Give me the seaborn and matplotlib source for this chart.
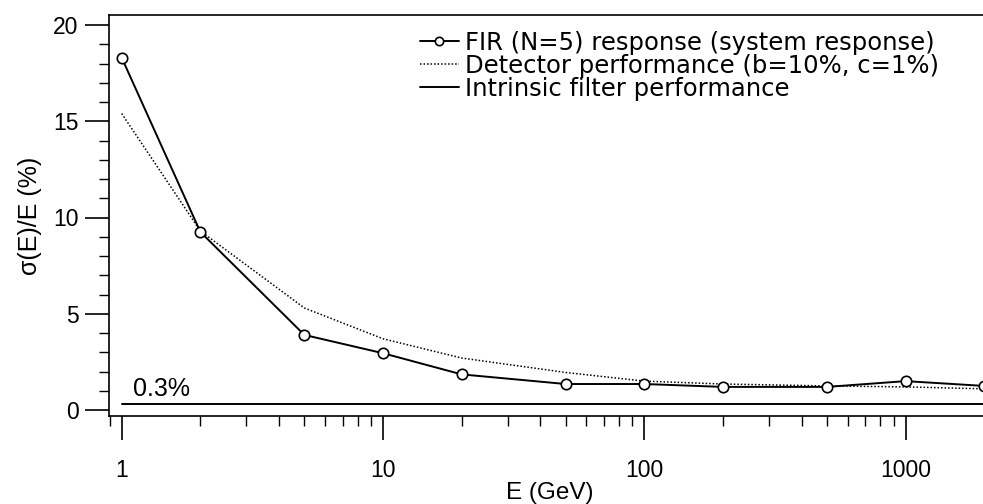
import numpy as np
import pandas as pd
import matplotlib
matplotlib.use("Agg")
import matplotlib.pyplot as plt
import matplotlib.ticker as mticker
import seaborn as sns

energy = [1, 2, 5, 10, 20, 50, 100, 200, 500, 1000, 2000]
fir_response = [18.3, 9.25, 3.9, 2.95, 1.85, 1.35, 1.35, 1.2, 1.2, 1.5, 1.25]
detector_perf = [15.4, 9.3, 5.3, 3.7, 2.7, 1.95, 1.5, 1.35, 1.25, 1.2, 1.1]
intrinsic_energy = [1, 2500]
intrinsic_perf = [0.3, 0.3]
legend_labels = ["FIR (N=5) response (system response)",
                 "Detector performance (b=10%, c=1%)",
                 "Intrinsic filter performance"]
x_ticks = [1, 10, 100, 1000]
y_ticks = [0, 5, 10, 15, 20]

sns.set_style("ticks")
plt.rcParams['font.family'] = ['Liberation Sans', 'DejaVu Sans']
plt.rcParams['font.size'] = 16
plt.rcParams['text.color'] = 'black'
plt.rcParams['axes.labelcolor'] = 'black'
plt.rcParams['xtick.color'] = 'black'
plt.rcParams['ytick.color'] = 'black'

fig = plt.figure(figsize=(9.83, 5.04), dpi=100)
W, H = 983, 504
left_px, right_px, top_px, bot_px = 109, 990, 15, 416
ax = fig.add_axes([left_px / W, 1 - bot_px / H, (right_px - left_px) / W, (bot_px - top_px) / H])

df_fir = pd.DataFrame({"E": energy, "v": fir_response})
df_det = pd.DataFrame({"E": energy, "v": detector_perf})
df_int = pd.DataFrame({"E": intrinsic_energy, "v": intrinsic_perf})

sns.lineplot(data=df_fir, x="E", y="v", ax=ax, color="black", lw=1.4,
             marker="o", markersize=7.5, markerfacecolor="white",
             markeredgecolor="black", markeredgewidth=1.2,
             label=legend_labels[0], clip_on=False, zorder=3)
sns.lineplot(data=df_det, x="E", y="v", ax=ax, color="black", lw=1.1,
             linestyle=(0, (1, 1.3)), label=legend_labels[1], zorder=2)
sns.lineplot(data=df_int, x="E", y="v", ax=ax, color="black", lw=1.4,
             label=legend_labels[2], zorder=2)

ax.set_xscale("log")
ax.set_xlim(10 ** ((left_px - 121.7) / 261.3), 10 ** ((right_px - 121.7) / 261.3))
ax.set_ylim((410 - bot_px) / 19.25, (410 - top_px) / 19.25)

ax.set_xticks(x_ticks)
ax.xaxis.set_major_formatter(mticker.FuncFormatter(lambda v, p: f"{int(v)}"))
ax.xaxis.set_minor_locator(mticker.LogLocator(base=10, subs=np.arange(2, 10)))
ax.xaxis.set_minor_formatter(mticker.NullFormatter())
ax.set_yticks(y_ticks)
ax.yaxis.set_minor_locator(mticker.MultipleLocator(1))

ax.tick_params(axis="both", which="major", direction="out", length=17, width=1.2,
               labelsize=16.5, colors="black", pad=5)
ax.tick_params(axis="both", which="minor", direction="out", length=7, width=1.0)
ax.tick_params(axis="x", which="major", pad=14)

for s in ["left", "top", "bottom"]:
    ax.spines[s].set_visible(True)
    ax.spines[s].set_linewidth(1.2)
    ax.spines[s].set_color("black")
ax.spines["right"].set_visible(False)

ax.set_xlabel("E (GeV)", fontsize=17.5, labelpad=0, color="black")
ax.set_ylabel("σ(E)/E (%)", fontsize=18, labelpad=8, color="black")

ax.text(1.1, 0.3 + 0.15, "0.3%", fontsize=18, ha="left", va="bottom", color="black")

leg = ax.legend(loc="upper left", bbox_to_anchor=(420 / W, 1 - 31 / H),
                bbox_transform=fig.transFigure, frameon=False,
                prop={"family": "DejaVu Sans", "size": 17.5},
                handlelength=1.6, handletextpad=0.25, labelspacing=-0.05,
                borderpad=0, borderaxespad=0, labelcolor="black")
for h in leg.legend_handles:
    try:
        h.set_markersize(6)
    except Exception:
        pass

fig.savefig("out.png", dpi=100)
